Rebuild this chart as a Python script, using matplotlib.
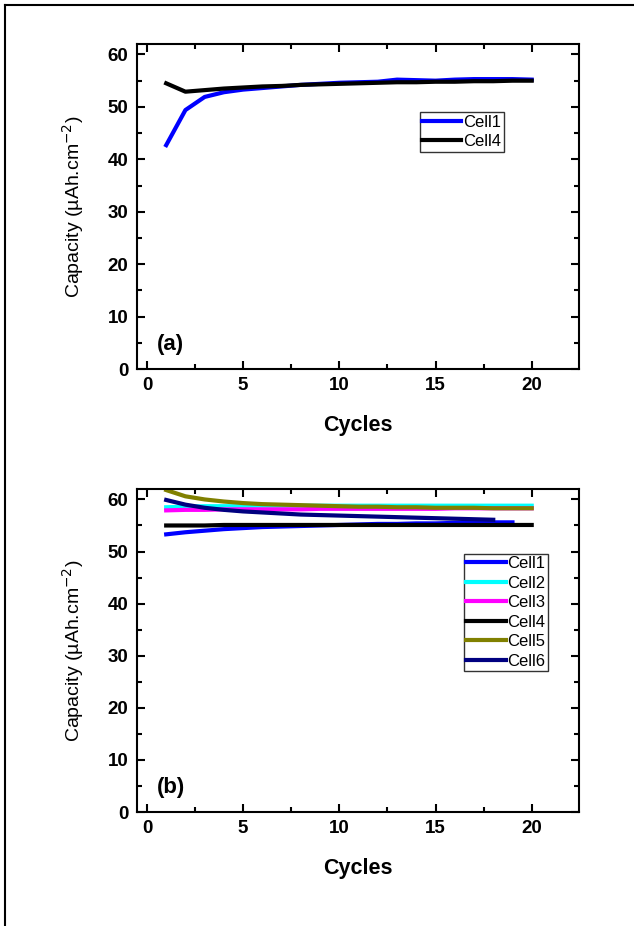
import matplotlib.pyplot as plt
from matplotlib.lines import Line2D
from matplotlib.ticker import MultipleLocator

plt.rcParams['font.family'] = ['Liberation Sans', 'DejaVu Sans']

# данные панели (a)
cycles = list(range(1, 21))
a_cell1 = [42.7, 49.4, 51.9, 52.8, 53.3, 53.6, 53.9, 54.2, 54.4, 54.6,
           54.7, 54.8, 55.2, 55.1, 55.0, 55.2, 55.3, 55.3, 55.3, 55.2]
a_cell4 = [54.5, 52.9, 53.2, 53.5, 53.7, 53.9, 54.0, 54.2, 54.3, 54.4,
           54.5, 54.6, 54.7, 54.7, 54.8, 54.8, 54.9, 54.9, 55.0, 55.0]

# данные панели (b)
b_cell1 = [53.3, 53.7, 54.0, 54.3, 54.5, 54.7, 54.8, 54.9, 55.0, 55.1,
           55.2, 55.3, 55.3, 55.4, 55.4, 55.5, 55.5, 55.6, 55.6]
b_cell2 = [58.5, 58.6, 58.7, 58.7, 58.7, 58.8, 58.8, 58.8, 58.8, 58.8,
           58.8, 58.8, 58.8, 58.8, 58.8, 58.8, 58.8, 58.8, 58.8, 58.8]
b_cell3 = [57.9, 58.0, 58.0, 58.1, 58.1, 58.1, 58.1, 58.1, 58.2, 58.2,
           58.2, 58.2, 58.2, 58.2, 58.2, 58.3, 58.3, 58.3, 58.3, 58.3]
b_cell4 = [55.0, 55.0, 55.0, 55.1, 55.1, 55.1, 55.1, 55.1, 55.1, 55.1,
           55.1, 55.1, 55.1, 55.1, 55.1, 55.1, 55.1, 55.1, 55.1, 55.1]
b_cell5 = [61.8, 60.6, 60.0, 59.6, 59.3, 59.1, 59.0, 58.9, 58.8, 58.7,
           58.6, 58.6, 58.5, 58.5, 58.4, 58.4, 58.4, 58.3, 58.3, 58.3]
b_cell6 = [59.9, 59.0, 58.4, 58.0, 57.7, 57.5, 57.3, 57.1, 57.0, 56.9,
           56.8, 56.7, 56.6, 56.5, 56.4, 56.3, 56.2, 56.1]

fig = plt.figure(figsize=(6.34, 9.26), dpi=100)

# рамка: видны только левая и верхняя стороны
fig.add_artist(Line2D([0.0085, 0.0085], [0, 0.9945], transform=fig.transFigure,
                      color='black', lw=1.5))
fig.add_artist(Line2D([0.0085, 1.0], [0.9945, 0.9945], transform=fig.transFigure,
                      color='black', lw=1.5))

ax1 = fig.add_axes([0.216, 0.6015, 0.697, 0.351])
ax2 = fig.add_axes([0.216, 0.1231, 0.697, 0.3488])

lw = 3.0
ax1.plot(cycles, a_cell1, color='#0000ff', lw=lw, label='Cell1')
ax1.plot(cycles, a_cell4, color='black', lw=lw, label='Cell4')

ax2.plot(cycles[:19], b_cell1, color='#0000ff', lw=lw, label='Cell1')
ax2.plot(cycles, b_cell2, color='cyan', lw=lw, label='Cell2')
ax2.plot(cycles, b_cell3, color='magenta', lw=lw, label='Cell3')
ax2.plot(cycles, b_cell4, color='black', lw=lw, label='Cell4')
ax2.plot(cycles, b_cell5, color='#808000', lw=lw, label='Cell5')
ax2.plot(cycles[:18], b_cell6, color='#000080', lw=lw, label='Cell6')

for ax, tag in [(ax1, '(a)'), (ax2, '(b)')]:
    ax.set_xlim(-0.52, 22.45)
    ax.set_ylim(0, 62)
    ax.xaxis.set_major_locator(MultipleLocator(5))
    ax.xaxis.set_minor_locator(MultipleLocator(2.5))
    ax.yaxis.set_major_locator(MultipleLocator(10))
    ax.yaxis.set_minor_locator(MultipleLocator(5))
    ax.tick_params(which='both', direction='in', top=True, right=True, width=1.5)
    ax.tick_params(which='major', length=6, labelsize=13.5, pad=6)
    ax.tick_params(which='minor', length=3.5)
    for lbl in ax.get_xticklabels() + ax.get_yticklabels():
        lbl.set_fontweight('bold')
    for s in ax.spines.values():
        s.set_linewidth(1.5)
    ax.set_xlabel('Cycles', fontsize=15.5, fontweight='bold', labelpad=15)
    ax.set_ylabel('Capacity (µAh.cm$^{-2}$)', fontsize=14, labelpad=16)
    ax.text(0.045, 0.075, tag, transform=ax.transAxes, fontsize=16,
            fontweight='bold', va='center')

leg1 = ax1.legend(loc='upper left', bbox_to_anchor=(0.64, 0.79), fontsize=12,
                  frameon=True, fancybox=False, edgecolor='black', handlelength=2.35,
                  handletextpad=0.1, borderpad=0.15, labelspacing=0.27,
                  borderaxespad=0)
leg1.get_frame().set_linewidth(1.0)

leg2 = ax2.legend(loc='upper left', bbox_to_anchor=(0.74, 0.80), fontsize=12,
                  frameon=True, fancybox=False, edgecolor='black', handlelength=2.35,
                  handletextpad=0.1, borderpad=0.15, labelspacing=0.27,
                  borderaxespad=0)
leg2.get_frame().set_linewidth(1.0)

fig.savefig('out.png', dpi=100)
